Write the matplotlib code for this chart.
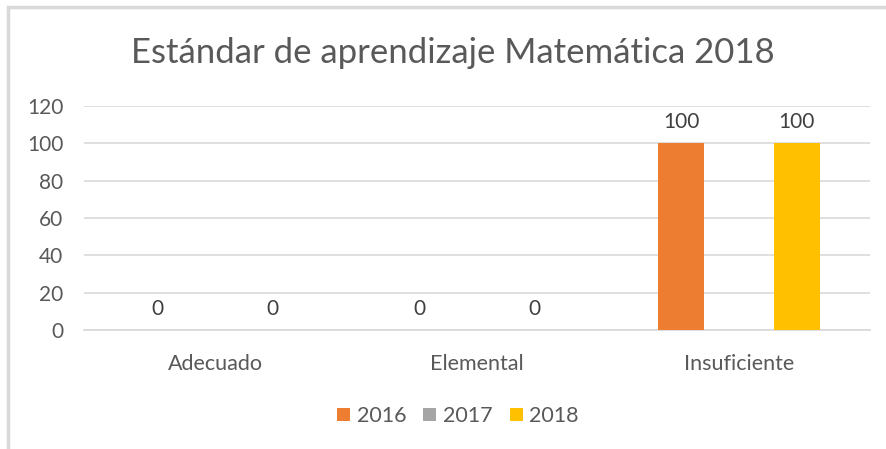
import numpy as np
import matplotlib.pyplot as plt
from matplotlib.patches import Rectangle

# data
categories = ['Adecuado', 'Elemental', 'Insuficiente']
years = ['2016', '2017', '2018']
values_2016 = [0, 0, 100]
values_2017 = [np.nan, np.nan, np.nan]   # no data for 2017
values_2018 = [0, 0, 100]
colors = ['#ED7D31', '#A5A5A5', '#FFC000']

plt.rcParams['font.family'] = ['Lato', 'DejaVu Sans']
text_color = '#595959'

fig = plt.figure(figsize=(8.86, 4.49), dpi=100)
# chart frame (left and top edges visible)
fig.patches.append(Rectangle((7.5 / 886, -0.1), 1.2, (449 - 7) / 449 + 0.1,
                             transform=fig.transFigure, fill=False,
                             edgecolor='#D9D9D9', linewidth=2.5))

ax = fig.add_axes([84 / 886, 119 / 449, 786 / 886, 224 / 449])

x = np.arange(len(categories))
width = 0.175
offset = 0.221
series = [values_2016, values_2017, values_2018]
for i, (vals, year, c) in enumerate(zip(series, years, colors)):
    pos = x + (i - 1) * offset
    ax.bar(pos, vals, width, color=c, label=year, zorder=3)
    for xp, v in zip(pos, vals):
        if not np.isnan(v):
            ax.annotate(f'{v:g}', (xp, v), xytext=(0, 8), textcoords='offset points',
                        ha='center', va='bottom', fontsize=15, color='#404040')

ax.set_xlim(-0.5, 2.5)
ax.set_ylim(0, 120)
ax.set_yticks(range(0, 121, 20))
ax.yaxis.grid(True, color='#D9D9D9', linewidth=1.2)
ax.set_axisbelow(True)
for s in ax.spines.values():
    s.set_visible(False)
ax.spines['bottom'].set_visible(True)
ax.spines['bottom'].set_color('#D9D9D9')
ax.spines['bottom'].set_linewidth(1.2)
ax.tick_params(length=0, labelsize=15, colors=text_color)
ax.tick_params(axis='y', pad=15)
ax.tick_params(axis='x', pad=17, labelsize=15.5)
ax.set_xticks(x)
ax.set_xticklabels(categories)

fig.text(453 / 886, 1 - 53 / 449, 'Estándar de aprendizaje Matemática 2018',
         ha='center', va='center', fontsize=25, color=text_color)

fig.legend(loc='center', bbox_to_anchor=(458 / 886, 1 - 416 / 449), ncol=3,
           frameon=False, fontsize=15.5, labelcolor=text_color,
           handlelength=0.6, handleheight=0.6, handletextpad=0.3, columnspacing=0.8)

fig.savefig('out.png', dpi=100)
